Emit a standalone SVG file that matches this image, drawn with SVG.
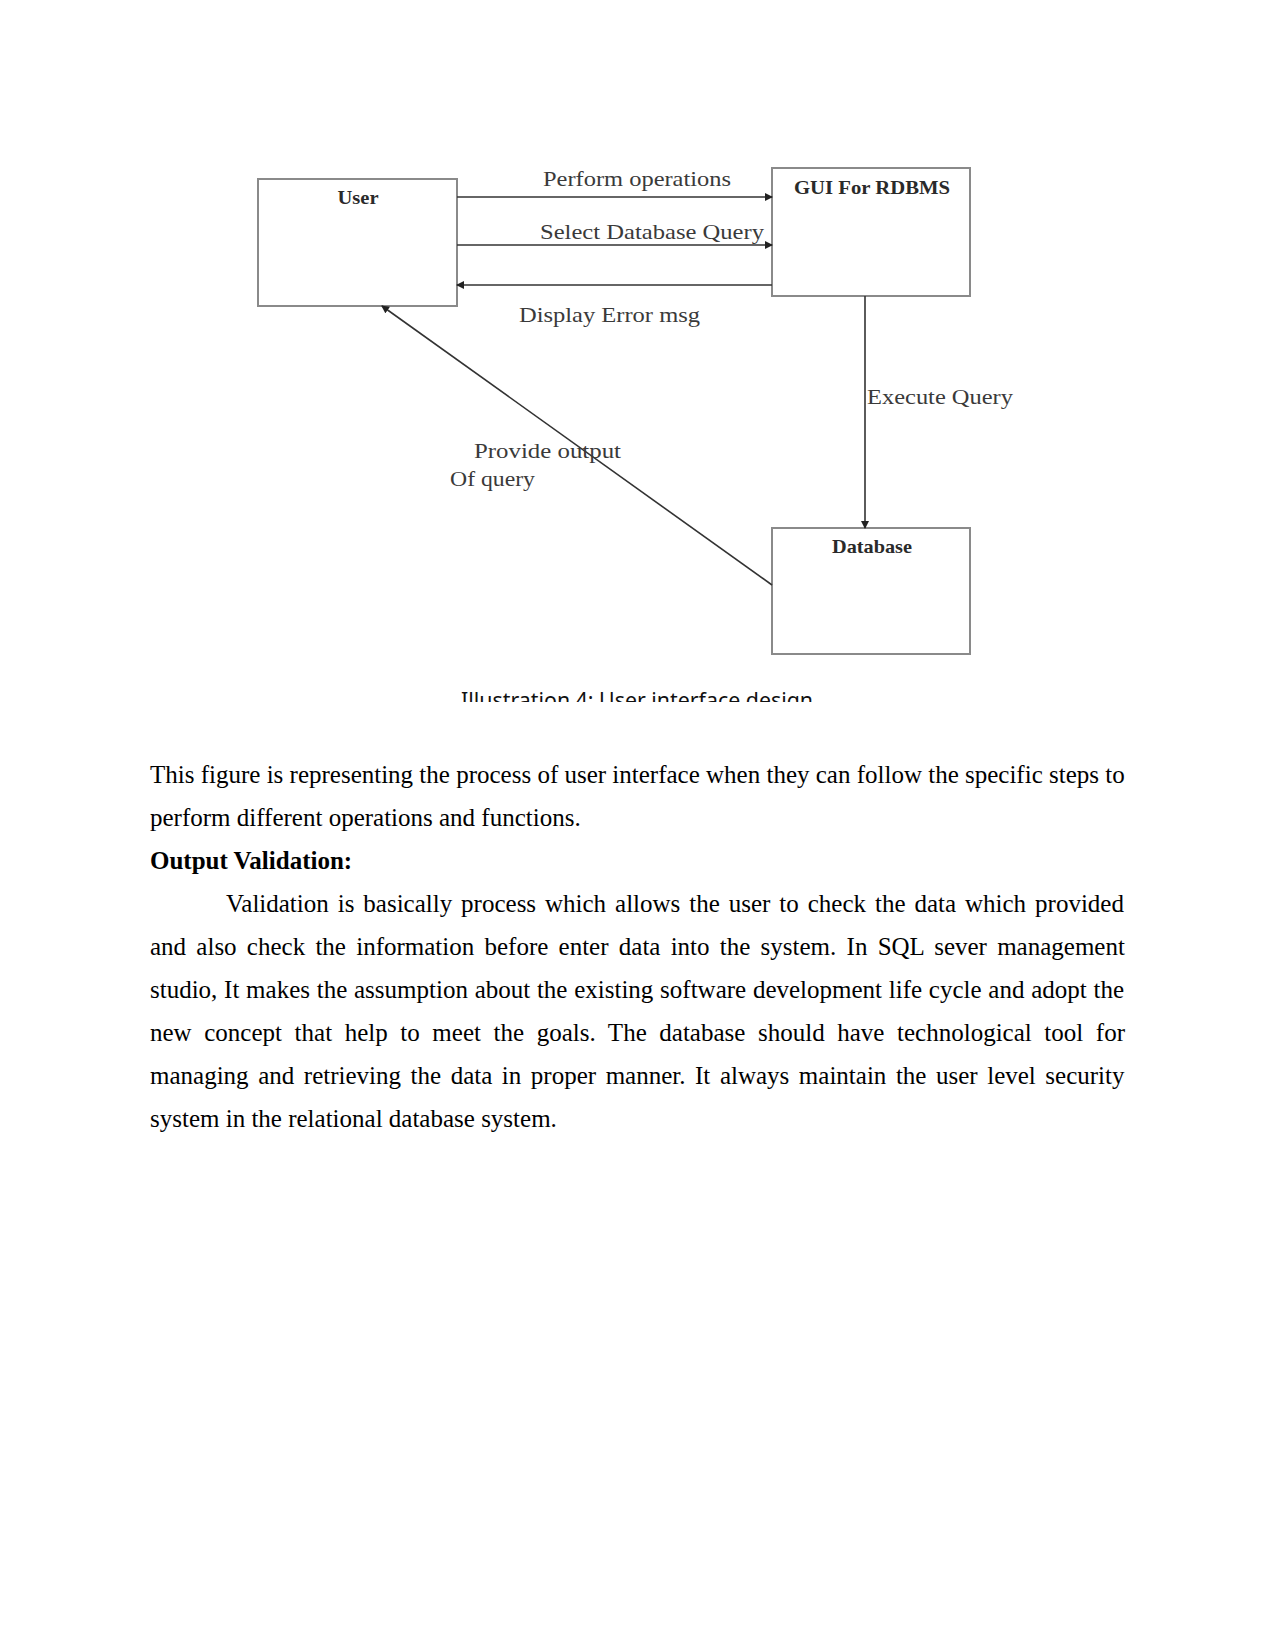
<svg xmlns="http://www.w3.org/2000/svg" width="1275" height="1650" viewBox="0 0 1275 1650">
<style>
.box{fill:#fff;stroke:#8a8a8a;stroke-width:2}
.conn{stroke:#333;stroke-width:1.6;fill:none}
.lbl{font-family:"Liberation Serif",serif;font-size:21px;fill:#3a3a3a}
.nb{font-family:"Liberation Serif",serif;font-size:19px;font-weight:bold;fill:#2a2a2a}
.body{font-family:"Liberation Serif",serif;font-size:25px;fill:#000}
.cap{font-family:"Noto Sans",sans-serif;font-size:21px;fill:#111}
</style>
<defs>
<marker id="ah" markerWidth="8" markerHeight="8" refX="7" refY="4" orient="auto" markerUnits="userSpaceOnUse">
<path d="M0,0 L8,4 L0,8 z" fill="#222"/>
</marker>
<clipPath id="capclip"><rect x="0" y="680" width="1275" height="22"/></clipPath>
</defs>
<rect width="1275" height="1650" fill="#fff"/>

<g id="user">
<rect class="box" x="258" y="179" width="199" height="127"/>
<text class="nb" x="358" y="204" text-anchor="middle" textLength="41" lengthAdjust="spacingAndGlyphs">User</text>
</g>
<g id="gui">
<rect class="box" x="772" y="168" width="198" height="128"/>
<text class="nb" x="872" y="194" text-anchor="middle" textLength="156" lengthAdjust="spacingAndGlyphs">GUI For RDBMS</text>
</g>
<g id="database">
<rect class="box" x="772" y="528" width="198" height="126"/>
<text class="nb" x="872" y="553" text-anchor="middle" textLength="80" lengthAdjust="spacingAndGlyphs">Database</text>
</g>

<g id="connectors">
<line class="conn" x1="457" y1="197" x2="772" y2="197" marker-end="url(#ah)"/>
<line class="conn" x1="457" y1="245" x2="772" y2="245" marker-end="url(#ah)"/>
<line class="conn" x1="772" y1="285" x2="457" y2="285" marker-end="url(#ah)"/>
<line class="conn" x1="865" y1="296" x2="865" y2="528" marker-end="url(#ah)" stroke="#555"/>
<line class="conn" x1="772" y1="585" x2="382" y2="306" marker-end="url(#ah)" stroke="#555"/>
<text class="lbl" x="543" y="186" textLength="188" lengthAdjust="spacingAndGlyphs">Perform operations</text>
<text class="lbl" x="540" y="239" textLength="224" lengthAdjust="spacingAndGlyphs">Select Database Query</text>
<text class="lbl" x="519" y="322" textLength="181" lengthAdjust="spacingAndGlyphs">Display Error msg</text>
<text class="lbl" x="867" y="404" textLength="146" lengthAdjust="spacingAndGlyphs">Execute Query</text>
<text class="lbl" x="474" y="458" textLength="147" lengthAdjust="spacingAndGlyphs">Provide output</text>
<text class="lbl" x="450" y="486" textLength="85" lengthAdjust="spacingAndGlyphs">Of query</text>
</g>

<text class="cap" x="461" y="708" textLength="352" lengthAdjust="spacingAndGlyphs" clip-path="url(#capclip)">Illustration 4: User interface design</text>

<text class="body" x="150" y="783">This figure is representing the process of user interface when they can follow the specific steps to</text>
<text class="body" x="150" y="826">perform different operations and functions.</text>
<text class="body" x="150" y="869" font-weight="bold">Output Validation:</text>
<text class="body" x="226" y="912" word-spacing="2.69">Validation is basically process which allows the user to check the data which provided</text>
<text class="body" x="150" y="955" word-spacing="4.0">and also check the information before enter data into the system. In SQL sever management</text>
<text class="body" x="150" y="998" word-spacing="0.49">studio, It makes the assumption about the existing software development life cycle and adopt the</text>
<text class="body" x="150" y="1041" word-spacing="6.35">new concept that help to meet the goals. The database should have technological tool for</text>
<text class="body" x="150" y="1084" word-spacing="3.31">managing and retrieving the data in proper manner. It always maintain the user level security</text>
<text class="body" x="150" y="1127">system in the relational database system.</text>
</svg>
